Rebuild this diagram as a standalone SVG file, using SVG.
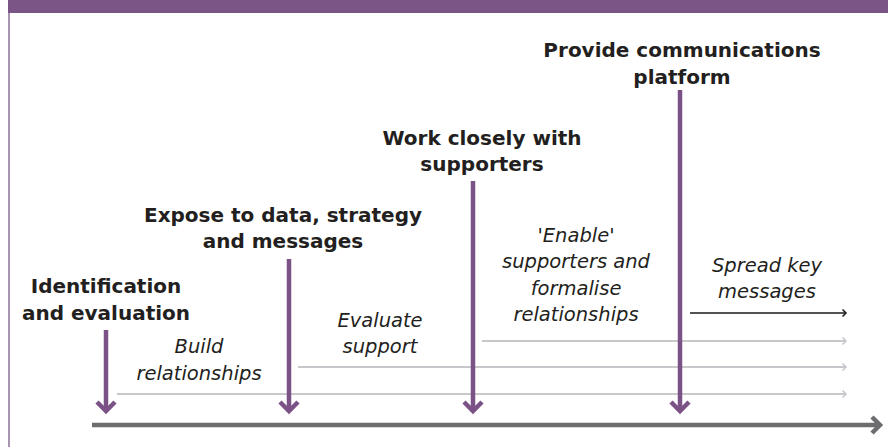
<svg xmlns="http://www.w3.org/2000/svg" width="888" height="447" viewBox="0 0 888 447">
  <style>
    .head { font-family: "DejaVu Sans", "Liberation Sans", sans-serif; font-weight: bold; font-size: 20px; fill: #231f20; text-anchor: middle; }
    .lab { font-family: "DejaVu Sans", "Liberation Sans", sans-serif; font-style: italic; font-size: 19.5px; fill: #231f20; text-anchor: middle; }
    .purple { stroke: #7b5286; stroke-width: 4.5; fill: none; }
    .track { stroke: #c8c8cc; stroke-width: 2; fill: none; }
  </style>
  <defs>
    <marker id="mPurple" markerUnits="userSpaceOnUse" viewBox="-14 -14 28 28" markerWidth="28" markerHeight="28" refX="0" refY="0" orient="auto">
      <path d="M-9,-9 L0,0 L-9,9" fill="none" stroke="#7b5286" stroke-width="4.5"/>
    </marker>
    <marker id="mAxis" markerUnits="userSpaceOnUse" viewBox="-14 -14 28 28" markerWidth="28" markerHeight="28" refX="0" refY="0" orient="auto">
      <path d="M-8,-8 L0,0 L-8,8" fill="none" stroke="#6d6d70" stroke-width="4.5"/>
    </marker>
    <marker id="mGray" markerUnits="userSpaceOnUse" viewBox="-6 -6 12 12" markerWidth="12" markerHeight="12" refX="0" refY="0" orient="auto">
      <path d="M-3.5,-3.5 L0,0 L-3.5,3.5" fill="none" stroke="#c8c8cc" stroke-width="1.6"/>
    </marker>
    <marker id="mBlack" markerUnits="userSpaceOnUse" viewBox="-6 -6 12 12" markerWidth="12" markerHeight="12" refX="0" refY="0" orient="auto">
      <path d="M-3.5,-3.5 L0,0 L-3.5,3.5" fill="none" stroke="#1a1a1a" stroke-width="1.5"/>
    </marker>
  </defs>

  <rect x="0" y="0" width="888" height="447" fill="#ffffff"/>
  <!-- header band and left border -->
  <rect x="8" y="0" width="880" height="13" fill="#7a5586"/>
  <line x1="9" y1="13" x2="9" y2="447" stroke="#a088ab" stroke-width="1.8"/>

  <g id="connectors">
    <line id="track-1" class="track" x1="117" y1="394" x2="846" y2="394" marker-end="url(#mGray)"/>
    <line id="track-2" class="track" x1="298" y1="367" x2="846" y2="367" marker-end="url(#mGray)"/>
    <line id="track-3" class="track" x1="482" y1="341" x2="846" y2="341" marker-end="url(#mGray)"/>
    <line id="track-4" x1="690" y1="313" x2="846" y2="313" stroke="#1a1a1a" stroke-width="1.6" marker-end="url(#mBlack)"/>
    <line id="axis" x1="92" y1="425" x2="880" y2="425" stroke="#6d6d70" stroke-width="4.5" marker-end="url(#mAxis)"/>
    <line id="arrow-1" class="purple" x1="106" y1="330" x2="106" y2="411" marker-end="url(#mPurple)"/>
    <line id="arrow-2" class="purple" x1="289" y1="259" x2="289" y2="411" marker-end="url(#mPurple)"/>
    <line id="arrow-3" class="purple" x1="473" y1="181" x2="473" y2="411" marker-end="url(#mPurple)"/>
    <line id="arrow-4" class="purple" x1="680" y1="90" x2="680" y2="411" marker-end="url(#mPurple)"/>
  </g>

  <g id="step-identification">
    <text class="head" x="106" y="293">Identification</text>
    <text class="head" x="106" y="320">and evaluation</text>
  </g>
  <g id="step-expose">
    <text class="head" x="283" y="222">Expose to data, strategy</text>
    <text class="head" x="283" y="248">and messages</text>
  </g>
  <g id="step-work">
    <text class="head" x="482" y="145">Work closely with</text>
    <text class="head" x="482" y="171">supporters</text>
  </g>
  <g id="step-provide">
    <text class="head" x="682" y="57">Provide communications</text>
    <text class="head" x="682" y="84">platform</text>
  </g>

  <g id="phase-build">
    <text class="lab" x="199" y="353">Build</text>
    <text class="lab" x="199" y="380">relationships</text>
  </g>
  <g id="phase-evaluate">
    <text class="lab" x="380" y="327">Evaluate</text>
    <text class="lab" x="380" y="353">support</text>
  </g>
  <g id="phase-enable">
    <text class="lab" x="576" y="242">'Enable'</text>
    <text class="lab" x="576" y="268">supporters and</text>
    <text class="lab" x="576" y="295">formalise</text>
    <text class="lab" x="576" y="321">relationships</text>
  </g>
  <g id="phase-spread">
    <text class="lab" x="767" y="272">Spread key</text>
    <text class="lab" x="767" y="298">messages</text>
  </g>
</svg>
